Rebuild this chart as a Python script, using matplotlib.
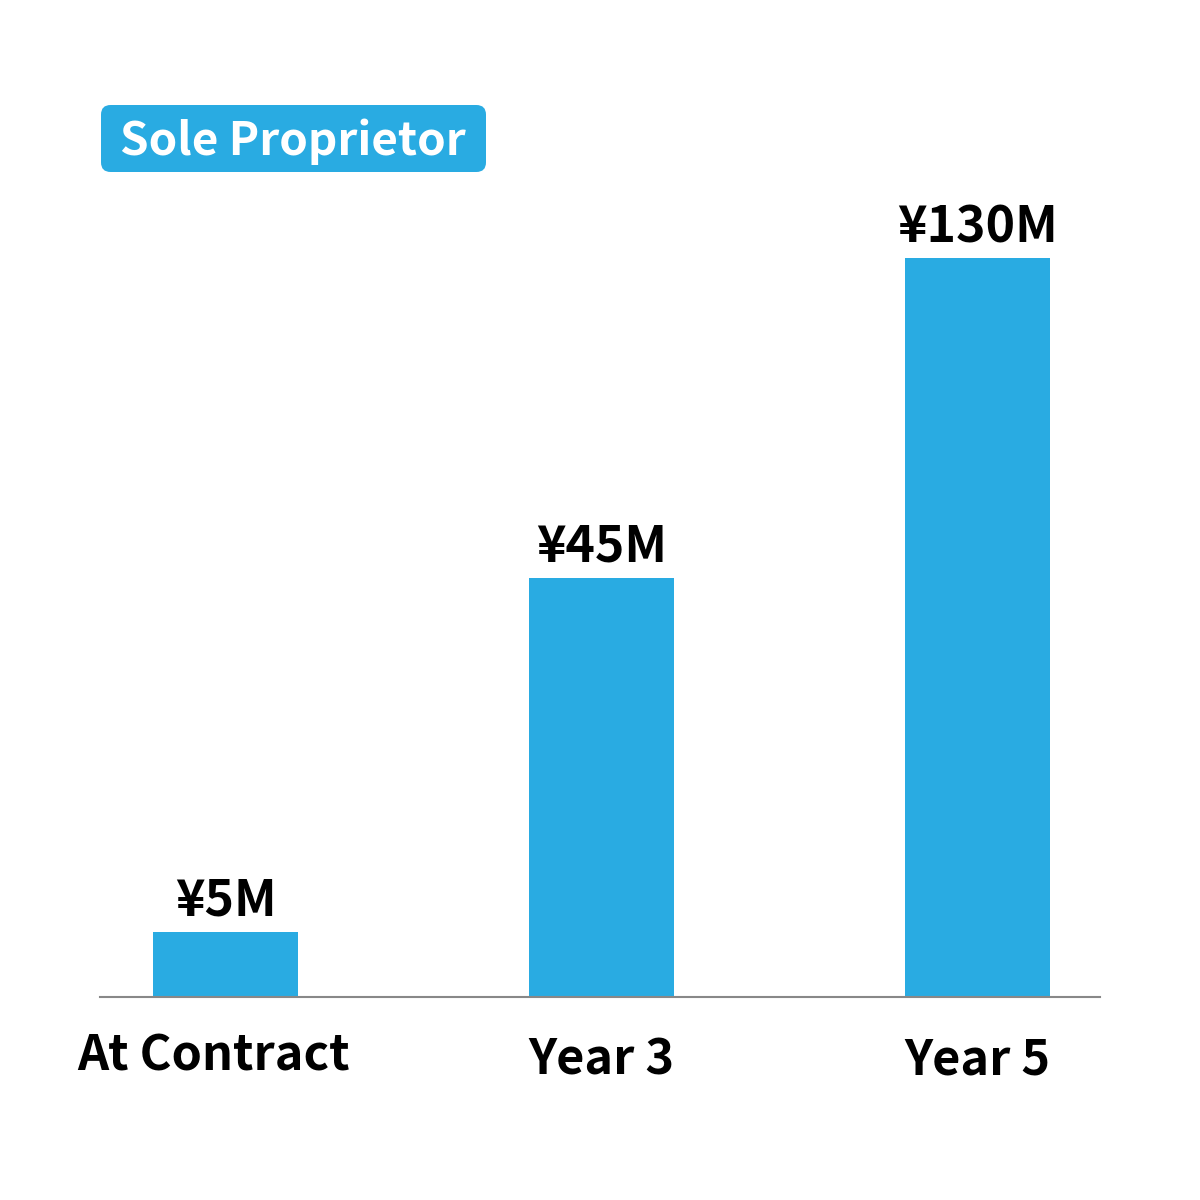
import matplotlib.pyplot as plt
import matplotlib.transforms as mtransforms
from matplotlib.patches import FancyBboxPatch

# Chart data
categories = ["At Contract", "Year 3", "Year 5"]
value_labels = ["¥5M", "¥45M", "¥130M"]
bar_heights = [65, 419, 739]   # drawn heights
title = "Sole Proprietor"

blue = "#29abe2"
plt.rcParams['font.family'] = ['Noto Sans CJK JP', 'DejaVu Sans']

fig = plt.figure(figsize=(12, 12), dpi=100)
ax = fig.add_axes([100 / 1200, 1 - 997 / 1200, 1000 / 1200, 797 / 1200])

x = range(len(categories))
bars = ax.bar(x, bar_heights, width=0.386, color=blue, zorder=2)

ax.set_xlim(-0.334, 2.326)
ax.set_ylim(0, 797)

for s in ["top", "right", "left"]:
    ax.spines[s].set_visible(False)
ax.spines["bottom"].set_color("#888888")
ax.spines["bottom"].set_linewidth(1.5)
ax.set_yticks([])
ax.set_xticks(list(x))
ax.set_xticklabels(categories, fontsize=35, fontweight="bold")
ax.tick_params(axis="x", length=0, pad=28)
# first label sits a little left and higher in the original
lbl0 = ax.get_xticklabels()[0]
lbl0.set_transform(lbl0.get_transform() +
                   mtransforms.ScaledTranslation(-0.12, 0.04, fig.dpi_scale_trans))

# value labels above bars
for b, lab in zip(bars, value_labels):
    ax.text(b.get_x() + b.get_width() / 2, b.get_height() + 5, lab,
            ha="center", va="bottom", fontsize=36, fontweight="bold")

# title badge
badge = FancyBboxPatch((101 / 1200, 1 - 172 / 1200), 385 / 1200, 67 / 1200,
                       boxstyle="round,pad=0,rounding_size=0.008",
                       transform=fig.transFigure, facecolor=blue,
                       edgecolor="none")
fig.patches.append(badge)
fig.text(293 / 1200, 1 - 142 / 1200, title, ha="center", va="center",
         color="white", fontsize=33, fontweight="bold")

fig.savefig("out.png", dpi=100)
